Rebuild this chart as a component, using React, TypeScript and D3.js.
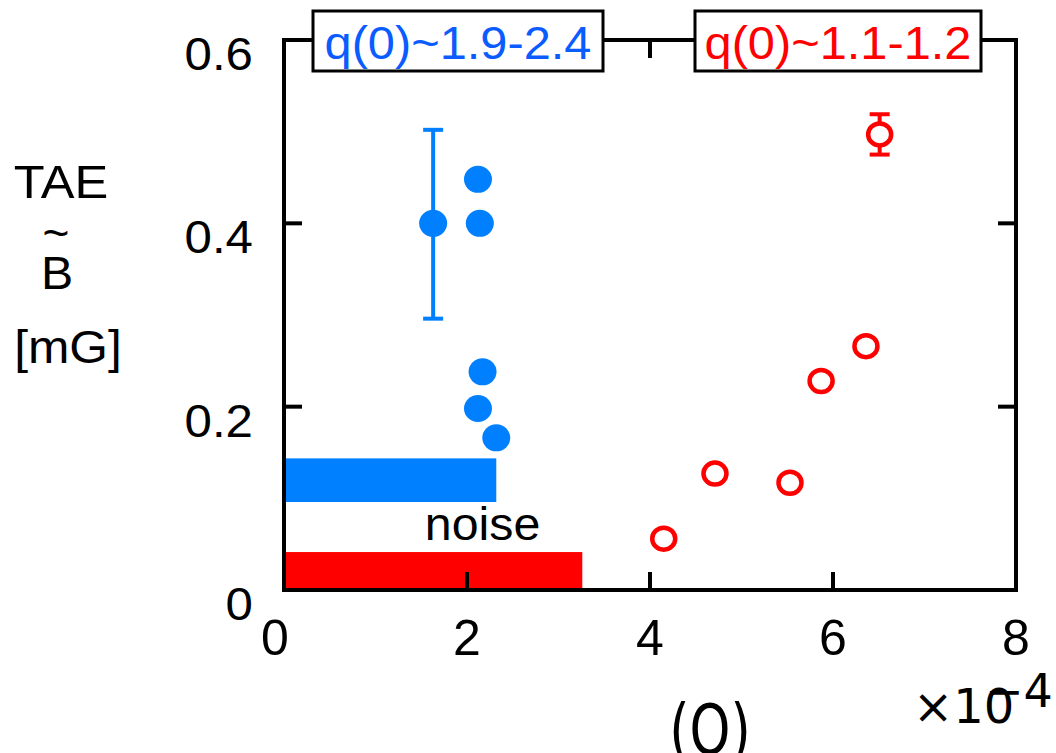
import React from "react";
import * as d3 from "d3";

const blueX = [1.63, 2.12, 2.14, 2.17, 2.12, 2.32];
const blueY = [0.4, 0.448, 0.4, 0.238, 0.198, 0.166];
const blueErr = [{ x: 1.63, lo: 0.296, hi: 0.502 }];
const redX = [6.51, 6.36, 5.87, 4.71, 5.53, 4.15];
const redY = [0.497, 0.266, 0.228, 0.127, 0.117, 0.056];
const redErr = [{ x: 6.51, lo: 0.475, hi: 0.519 }];
const noiseBars = [
  { x1: 3.26, y0: 0, y1: 0.0414, color: "#ff0000" },
  { x1: 2.32, y0: 0.096, y1: 0.1436, color: "#0080ff" },
];
const xTicks = [0, 2, 4, 6, 8];
const yTicks = [0, 0.2, 0.4, 0.6];
const yTickLabels = ["0", "0.2", "0.4", "0.6"];
const boxLabels = [
  { text: "q(0)~1.9-2.4", x0: 313, x1: 603, color: "#0a5cff" },
  { text: "q(0)~1.1-1.2", x0: 695, x1: 981, color: "#ff0000" },
];

const SANS = "'Liberation Sans', Arial, sans-serif";
const DJV = "'DejaVu Sans', sans-serif";

function T({ x, y, size, sx = 1, sy = 1, anchor = "start", fill = "#000", family = SANS, children }: any) {
  return (
    <text
      transform={`translate(${x},${y}) scale(${sx},${sy})`}
      fontSize={size}
      textAnchor={anchor}
      fill={fill}
      fontFamily={family}
    >
      {children}
    </text>
  );
}

export default function App() {
  const W = 1056, H = 753;
  const L = 284, R = 1016, T0 = 40, B = 590;
  const x = d3.scaleLinear().domain([0, 8]).range([L, R]);
  const y = d3.scaleLinear().domain([0, 0.6]).range([B, T0]);
  const tickLen = 18;
  const sw = 4;
  const blue = "#0080ff";
  const red = "#ff0000";
  return (
    <svg width={W} height={H} style={{ position: "absolute", left: 0, top: 0, background: "#fff" }} fontFamily={SANS}>
      {noiseBars.map((b, i) => (
        <rect key={i} x={x(0)} y={y(b.y1)} width={x(b.x1) - x(0)} height={y(b.y0) - y(b.y1)} fill={b.color} />
      ))}
      <T x={x(2.17)} y={540} size={46} sx={1.05} anchor="middle">noise</T>
      <rect x={L} y={T0} width={R - L} height={B - T0} fill="none" stroke="#000" strokeWidth={sw} />
      {xTicks.slice(1, -1).map((t) => (
        <g key={t}>
          <line x1={x(t)} x2={x(t)} y1={B} y2={B - tickLen} stroke="#000" strokeWidth={sw} />
          <line x1={x(t)} x2={x(t)} y1={T0} y2={T0 + tickLen} stroke="#000" strokeWidth={sw} />
        </g>
      ))}
      {yTicks.slice(1, -1).map((t) => (
        <g key={t}>
          <line x1={L} x2={L + tickLen} y1={y(t)} y2={y(t)} stroke="#000" strokeWidth={sw} />
          <line x1={R} x2={R - tickLen} y1={y(t)} y2={y(t)} stroke="#000" strokeWidth={sw} />
        </g>
      ))}
      {xTicks.map((t) => (
        <T key={t} x={x(t) - (t === 0 ? 9 : 0)} y={655} size={50} anchor="middle">{t}</T>
      ))}
      {yTicks.map((t, i) => (
        <T key={t} x={253} y={y(t) + 30} size={46} sx={1.07} anchor="end">{yTickLabels[i]}</T>
      ))}
      {boxLabels.map((b, i) => (
        <g key={i}>
          <rect x={b.x0} y={11} width={b.x1 - b.x0} height={60} fill="#fff" stroke="#000" strokeWidth={3} />
          <T x={(b.x0 + b.x1) / 2} y={59} size={46} sx={1.06} anchor="middle" fill={b.color}>{b.text}</T>
        </g>
      ))}
      {blueErr.map((e, i) => (
        <g key={i} stroke={blue} strokeWidth={4}>
          <line x1={x(e.x)} x2={x(e.x)} y1={y(e.lo)} y2={y(e.hi)} />
          <line x1={x(e.x) - 10} x2={x(e.x) + 10} y1={y(e.lo)} y2={y(e.lo)} />
          <line x1={x(e.x) - 10} x2={x(e.x) + 10} y1={y(e.hi)} y2={y(e.hi)} />
        </g>
      ))}
      {redErr.map((e, i) => (
        <g key={i} stroke={red} strokeWidth={4}>
          <line x1={x(e.x)} x2={x(e.x)} y1={y(e.lo)} y2={y(e.hi)} />
          <line x1={x(e.x) - 10} x2={x(e.x) + 10} y1={y(e.lo)} y2={y(e.lo)} />
          <line x1={x(e.x) - 10} x2={x(e.x) + 10} y1={y(e.hi)} y2={y(e.hi)} />
        </g>
      ))}
      {blueX.map((v, i) => (
        <ellipse key={i} cx={x(v)} cy={y(blueY[i])} rx={14} ry={13.5} fill={blue} />
      ))}
      {redX.map((v, i) => (
        <ellipse key={i} cx={x(v)} cy={y(redY[i])} rx={11.5} ry={11} fill="#fff" stroke={red} strokeWidth={4.5} />
      ))}
      <T x={61} y={198} size={46} sx={1.1} anchor="middle">TAE</T>
      <T x={56} y={249} size={46} anchor="middle">~</T>
      <T x={57} y={289} size={46} sx={1.05} anchor="middle">B</T>
      <T x={68} y={363} size={46} sx={1.08} anchor="middle">[mG]</T>
      <T x={710} y={754} size={52} sy={1.35} anchor="middle" family={DJV}>(O)</T>
      <T x={913} y={723} size={48} family={DJV}>×10</T>
      <T x={985} y={707} size={46} family={DJV}>−4</T>
    </svg>
  );
}
